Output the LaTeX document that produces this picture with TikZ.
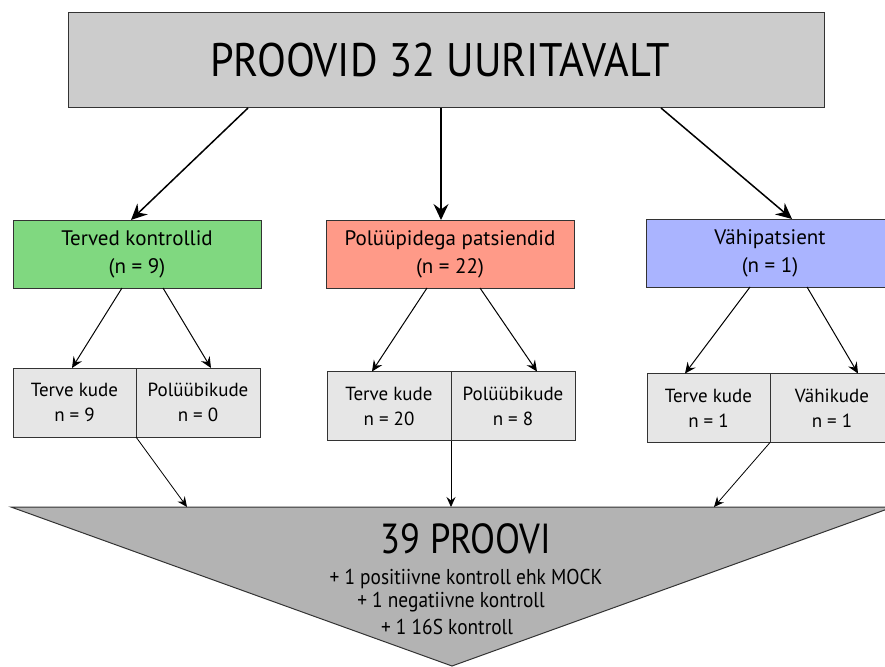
\documentclass[tikz,border=0pt]{standalone}
\usepackage{fontspec}
\setmainfont{PT Sans}
\newfontfamily\titlefont[FakeStretch=0.9]{PT Sans}
\newfontfamily\sumfont[FakeStretch=0.87]{PT Sans}
\newfontfamily\subfont[FakeStretch=0.9]{PT Sans}
\usetikzlibrary{arrows.meta,calc}
\definecolor{topgray}{HTML}{CCCCCC}
\definecolor{greenbox}{HTML}{80D880}
\definecolor{redbox}{HTML}{FF9A88}
\definecolor{bluebox}{HTML}{AAB4FF}
\definecolor{lightbox}{HTML}{E6E6E6}
\definecolor{trigray}{HTML}{B3B3B3}
\definecolor{edge}{HTML}{333333}
\tikzset{
  box/.style={draw=edge, line width=1pt, inner sep=0pt, outer sep=0pt, align=center},
  midbox/.style={box, minimum width=248pt, minimum height=68pt, font=\fontsize{21}{28}\selectfont},
  smallbox/.style={box, fill=lightbox, minimum height=69pt, font=\fontsize{19}{25}\selectfont},
  bigarrow/.style={line width=1.5pt, -{Stealth[length=16pt,width=15pt,inset=5.5pt]}},
  midarrow/.style={line width=1pt, -{Stealth[length=11pt,width=10pt,inset=4pt]}},
  lowarrow/.style={line width=0.8pt, -{Stealth[length=10pt,width=9pt,inset=3.5pt]}},
  sumtext/.style={font=\sumfont\fontsize{42}{48}\selectfont, anchor=base},
  subtext/.style={font=\subfont\fontsize{21.5}{24}\selectfont, anchor=base},
}
\begin{document}
\begin{tikzpicture}[x=1pt,y=-1pt]
\useasboundingbox (0,0) rectangle (885,666);
\clip (0,0) rectangle (885,666);
% top box
\node[box, fill=topgray, minimum width=756pt, minimum height=95pt, font=\titlefont\fontsize{47}{54}\selectfont] (top) at (446,60.5) {\hspace*{-12pt}PROOVID 32 UURITAVALT};
% middle boxes
\node[midbox, fill=greenbox] (green) at (137,254) {Terved kontrollid\\(n = 9)};
\node[midbox, fill=redbox] (red) at (450,254) {Polüüpidega patsiendid\\(n = 22)};
\node[midbox, fill=bluebox] (blue) at (770,253) {Vähipatsient\\(n = 1)};
% lower boxes
\node[smallbox, minimum width=123pt] (gl) at (74.5,402.5) {Terve kude\\n = 9};
\node[smallbox, minimum width=124pt] (gr) at (198,402.5) {Polüübikude\\n = 0};
\node[smallbox, minimum width=124pt] (rl) at (389,406) {Terve kude\\n = 20};
\node[smallbox, minimum width=124pt] (rr) at (513,406) {Polüübikude\\n = 8};
\node[smallbox, minimum width=123pt] (bl) at (708.5,408) {Terve kude\\n = 1};
\node[smallbox, minimum width=124pt] (br) at (832,408) {Vähikude\\n = 1};
% triangle
\coordinate (tA) at (11,507);
\coordinate (tB) at (893,507);
\coordinate (tC) at (452,666);
\draw[draw=edge, line width=1pt, fill=trigray] (tA) -- (tB) -- (tC) -- cycle;
\node[sumtext] (sum) at (466,553) {39 PROOVI};
\node[subtext] (s1) at (466,584) {+ 1 positiivne kontroll ehk MOCK};
\node[subtext] (s2) at (451,607) {+ 1 negatiivne kontroll};
\node[subtext] (s3) at (447,634) {+ 1 16S kontroll};
\coordinate (e1) at (187,507);
\coordinate (e2) at (451,507);
\coordinate (e3) at (714,507);
% arrows top -> middle
\draw[bigarrow] ([xshift=-198pt]top.south) -- ([xshift=-6pt]green.north);
\draw[bigarrow] ([xshift=-5pt]top.south) -- ([xshift=-9pt]red.north);
\draw[bigarrow] ([xshift=215pt]top.south) -- ([xshift=22pt]blue.north);
% arrows middle -> lower
\draw[midarrow] ([xshift=-15pt]green.south) -- ([xshift=-2.5pt]gl.north);
\draw[midarrow] ([xshift=26pt]green.south) -- ([xshift=13pt]gr.north);
\draw[midarrow] ([xshift=-23pt]red.south) -- ([xshift=-17pt]rl.north);
\draw[midarrow] ([xshift=30pt]red.south) -- ([xshift=24pt]rr.north);
\draw[midarrow] ([xshift=-20pt]blue.south) -- ([xshift=-23.5pt]bl.north);
\draw[midarrow] ([xshift=37pt]blue.south) -- ([xshift=26pt]br.north);
% arrows lower -> triangle
\draw[lowarrow] (gl.south east) -- (e1);
\draw[lowarrow] (rl.south east) -- (e2);
\draw[lowarrow] (bl.south east) -- (e3);
\end{tikzpicture}
\end{document}
